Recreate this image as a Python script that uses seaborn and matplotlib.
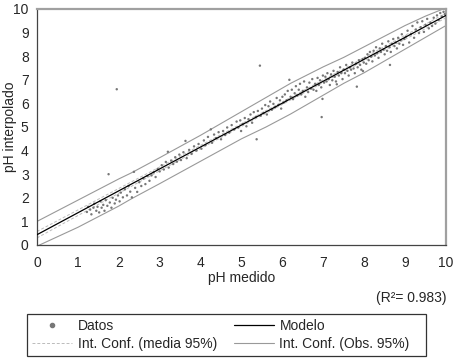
import numpy as np
import pandas as pd
import matplotlib
matplotlib.use("Agg")
import matplotlib.pyplot as plt
import seaborn as sns
from matplotlib.lines import Line2D

ph_medido = [
    1.22, 1.25, 1.30, 1.33, 1.38, 1.40, 1.45, 1.48, 1.52, 1.55, 1.58, 1.62, 1.65, 1.68, 1.72, 1.75,
    1.78, 1.82, 1.85, 1.90, 1.93, 1.95, 1.98, 2.02,
    2.05, 2.10, 2.15, 2.20, 2.24, 2.28, 2.32, 2.37, 2.40, 2.45, 2.50, 2.55, 2.60, 2.65, 2.70, 2.75,
    2.80, 2.85, 2.90, 2.95,
    3.00, 3.05, 3.10, 3.15, 3.20, 3.22, 3.28, 3.33, 3.38, 3.42, 3.48, 3.52, 3.58, 3.63, 3.66, 3.72,
    3.78, 3.84, 3.90, 3.95,
    4.02, 4.08, 4.12, 4.18, 4.25, 4.28, 4.33, 4.38, 4.44, 4.50, 4.55, 4.60, 4.65, 4.70, 4.76, 4.82,
    4.88, 4.92, 4.97, 4.99,
    5.03, 5.08, 5.12, 5.17, 5.22, 5.26, 5.30, 5.35, 5.37, 5.40, 5.45, 5.47, 5.50, 5.54, 5.58, 5.62,
    5.66, 5.70, 5.74, 5.78, 5.82, 5.86, 5.90, 5.94, 5.97, 6.00,
    6.03, 6.06, 6.10, 6.13, 6.17, 6.20, 6.23, 6.26, 6.30, 6.33, 6.36, 6.40, 6.43, 6.46, 6.50, 6.53,
    6.56, 6.60, 6.63, 6.66, 6.70, 6.73, 6.76, 6.80, 6.83, 6.86, 6.89, 6.92, 6.95, 6.96, 6.98, 6.99,
    7.02, 7.05, 7.08, 7.10, 7.13, 7.16, 7.19, 7.22, 7.25, 7.28, 7.31, 7.33, 7.35, 7.38, 7.41, 7.44,
    7.47, 7.50, 7.53, 7.56, 7.59, 7.62, 7.65, 7.68, 7.71, 7.74, 7.77, 7.80, 7.82, 7.84, 7.87, 7.90,
    7.93, 7.96, 7.97, 7.99,
    8.02, 8.05, 8.08, 8.11, 8.14, 8.17, 8.20, 8.23, 8.26, 8.29, 8.32, 8.35, 8.38, 8.41, 8.44, 8.47,
    8.50, 8.53, 8.56, 8.59, 8.62, 8.63, 8.65, 8.68, 8.71, 8.74, 8.77, 8.80, 8.83, 8.86, 8.89, 8.92,
    8.95, 8.98,
    9.02, 9.06, 9.10, 9.14, 9.18, 9.22, 9.26, 9.30, 9.34, 9.38, 9.42, 9.46, 9.50, 9.54, 9.58, 9.62,
    9.66, 9.70, 9.74, 9.78, 9.82, 9.86, 9.90, 9.94, 9.97,
]
ph_interpolado = [
    1.40, 1.62, 1.50, 1.30, 1.58, 1.75, 1.45, 1.62, 1.38, 1.85, 1.58, 1.70, 1.45, 1.90, 1.66, 3.00,
    1.80, 1.58, 2.00, 1.76, 1.92, 6.60, 2.10, 1.85,
    2.22, 2.02, 2.36, 2.10, 2.50, 2.26, 2.02, 3.10, 2.42, 2.25, 2.66, 2.50, 2.82, 2.58, 2.92, 2.72,
    2.95, 3.08, 2.88, 3.22,
    3.12, 3.38, 3.20, 3.52, 3.95, 3.28, 3.58, 3.43, 3.72, 3.53, 3.83, 3.60, 3.93, 4.41, 3.68, 4.03,
    3.86, 4.18, 4.00, 4.28,
    4.08, 4.43, 4.23, 4.58, 4.90, 4.33, 4.68, 4.53, 4.78, 4.48, 4.83, 4.66, 4.98, 4.76, 5.08, 4.90,
    5.23, 4.98, 5.28, 4.83,
    5.13, 5.38, 5.03, 5.33, 5.53, 5.18, 5.63, 5.43, 4.48, 5.68, 7.60, 5.48, 5.78, 5.60, 5.93, 5.53,
    5.88, 6.08, 5.73, 5.98, 5.83, 6.23, 5.93, 6.13, 5.78, 6.28,
    6.03, 6.38, 6.13, 6.53, 7.00, 6.28, 6.58, 6.18, 6.43, 6.73, 6.33, 6.58, 6.83, 6.38, 6.53, 6.93,
    6.28, 6.68, 6.48, 6.88, 6.63, 7.03, 6.58, 6.83, 6.53, 7.08, 6.78, 6.98, 6.68, 5.42, 6.19, 7.18,
    6.88, 7.13, 6.93, 7.28, 7.03, 6.78, 7.23, 6.98, 7.38, 7.13, 6.93, 6.81, 7.33, 7.18, 7.53, 7.28,
    7.03, 7.43, 7.28, 7.63, 7.38, 7.18, 7.53, 7.43, 7.73, 7.48, 7.28, 7.68, 6.71, 7.53, 7.83, 7.63,
    7.43, 7.88, 7.37, 7.73,
    7.93, 7.68, 8.08, 7.83, 8.18, 7.98, 7.78, 8.23, 8.03, 8.38, 8.13, 7.93, 8.33, 8.18, 8.53, 8.28,
    8.08, 8.43, 8.23, 8.63, 8.38, 7.63, 8.18, 8.53, 8.73, 8.43, 8.58, 8.33, 8.78, 8.53, 8.68, 8.93,
    8.48, 8.73,
    8.83, 9.08, 8.58, 8.93, 9.28, 8.78, 9.13, 9.43, 8.98, 9.23, 9.48, 9.03, 9.33, 9.58, 9.18, 9.43,
    9.28, 9.63, 9.38, 9.73, 9.53, 9.83, 9.68, 9.88, 9.78,
]

# prediction band (Obs. 95%) as drawn in the reference
band_x = [0, 1, 2, 2.3, 3, 4, 5, 5.6, 6.2, 7, 7.5, 8, 9, 9.5, 10]
band_upper = [1.0, 1.9, 2.8, 3.05, 3.7, 4.65, 5.65, 6.25, 6.85, 7.55, 7.95, 8.4, 9.3, 9.7, 10.05]
band_lower = [-0.05, 0.75, 1.65, 1.95, 2.6, 3.55, 4.5, 5.0, 5.55, 6.35, 6.85, 7.3, 8.3, 8.8, 9.3]

r2_text = "(R²= 0.983)"

df = pd.DataFrame({"medido": ph_medido, "interpolado": ph_interpolado})

# linear fit and 95% confidence band of the mean
x = df["medido"].to_numpy()
y = df["interpolado"].to_numpy()
slope, intercept = np.polyfit(x, y, 1)
resid = y - (intercept + slope * x)
n = len(x)
s = np.sqrt(np.sum(resid ** 2) / (n - 2))
sxx = np.sum((x - x.mean()) ** 2)
grid = np.linspace(0, 10, 201)
fit = intercept + slope * grid
se = s * np.sqrt(1 / n + (grid - x.mean()) ** 2 / sxx)
ci_low = fit - 1.96 * se
ci_high = fit + 1.96 * se

sns.set_style("white")
plt.rcParams["font.family"] = ["Liberation Sans", "DejaVu Sans"]
plt.rcParams["font.size"] = 10

fig = plt.figure(figsize=(4.55, 3.64), dpi=100)
ax = fig.add_axes([37 / 455, 1 - 245 / 364, 409 / 455, 236 / 364])

band_col = "#999999"
sns.lineplot(x=band_x, y=band_upper, ax=ax, color=band_col, lw=0.8, sort=False)
sns.lineplot(x=band_x, y=band_lower, ax=ax, color=band_col, lw=0.8, sort=False)
sns.lineplot(x=grid, y=ci_low, ax=ax, color="#bbbbbb", lw=0.7, linestyle=(0, (3, 2)))
sns.lineplot(x=grid, y=ci_high, ax=ax, color="#bbbbbb", lw=0.7, linestyle=(0, (3, 2)))
sns.scatterplot(data=df, x="medido", y="interpolado", ax=ax, color="#777777",
                s=3, marker="o", edgecolor="none", zorder=3)
sns.lineplot(x=grid, y=fit, ax=ax, color="black", lw=0.9, zorder=4)

ax.set_xlim(0, 10)
ax.set_ylim(0, 10)
ax.set_xticks(range(0, 11))
ax.set_yticks(range(0, 11))
ax.tick_params(direction="inout", length=8, width=0.8, color="#444444",
               labelsize=10)
ax.tick_params(axis="x", pad=4)
ax.tick_params(axis="y", pad=2)
ax.set_xlabel("pH medido", fontsize=10)
ax.set_ylabel("pH interpolado", fontsize=10)
ax.xaxis.set_label_coords(0.5, -0.11)
ax.yaxis.set_label_coords(-0.05, 0.5)

for side in ["left", "bottom"]:
    ax.spines[side].set_color("#444444")
    ax.spines[side].set_linewidth(0.9)
for side in ["top", "right"]:
    ax.spines[side].set_color("#a0a0a0")
    ax.spines[side].set_linewidth(1.6)

fig.text(446 / 455, 1 - 298 / 364, r2_text, ha="right", va="center", fontsize=10)

handles = [
    Line2D([], [], color="#777777", marker="o", markersize=3, linestyle="none"),
    Line2D([], [], color="#bbbbbb", lw=0.7, linestyle=(0, (3, 2))),
    Line2D([], [], color="black", lw=0.9),
    Line2D([], [], color=band_col, lw=0.8),
]
labels = ["Datos", "Int. Conf. (media 95%)", "Modelo", "Int. Conf. (Obs. 95%)   "]
leg = fig.legend(handles, labels, ncol=2, loc="upper left",
                 bbox_to_anchor=(27 / 455, 1 - 314 / 364),
                 fontsize=10, frameon=True, fancybox=False,
                 edgecolor="black", handlelength=2.9, handletextpad=0.4,
                 columnspacing=1.2, labelspacing=0.3, borderpad=0.35,
                 borderaxespad=0)
leg.get_frame().set_linewidth(0.9)

fig.savefig("out.png", dpi=100)
